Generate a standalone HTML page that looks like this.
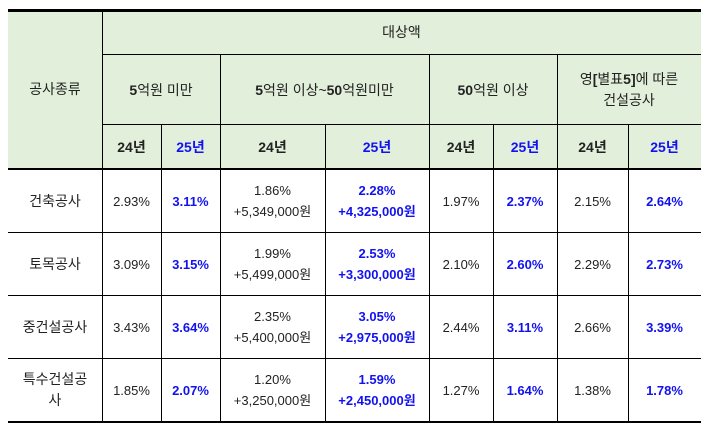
<!DOCTYPE html>
<html><head><meta charset="utf-8"><style>
body{margin:0;width:711px;height:432px;background:#fff;position:relative;overflow:hidden;font-family:"Liberation Sans","Noto Sans CJK KR",sans-serif;color:#222;}
.c{position:absolute;display:flex;align-items:center;justify-content:center;text-align:center;box-sizing:border-box;font-size:13px;line-height:21px;}
.h{background:#e2efda;}
.b{color:#1212f0;font-weight:bold;}
.y{font-weight:bold;font-size:14px;}
.l{position:absolute;background:#000;}
</style></head><body>
<div class="c h" style="left:8px;top:10px;width:693px;height:159px;"></div>
<div class="c h" style="left:8px;top:10px;width:94px;height:159px;font-size:14px;">공사종류</div>
<div class="c h" style="left:102px;top:10px;width:599px;height:45px;font-size:14px;">대상액</div>
<div class="c h" style="left:102px;top:55px;width:118px;height:70px;font-size:14px;"><span><b>5</b>억원 미만</span></div>
<div class="c h" style="left:220px;top:55px;width:209px;height:70px;font-size:14px;"><span><b>5</b>억원 이상~<b>50</b>억원미만</span></div>
<div class="c h" style="left:429px;top:55px;width:128px;height:70px;font-size:14px;"><span><b>50</b>억원 이상</span></div>
<div class="c h" style="left:557px;top:55px;width:144px;height:70px;font-size:14px;"><span>영<b>[</b>별표<b>5]</b>에 따른<br>건설공사</span></div>
<div class="c y" style="left:102px;top:125px;width:59px;height:44px;">24년</div>
<div class="c y b" style="left:161px;top:125px;width:59px;height:44px;">25년</div>
<div class="c y" style="left:220px;top:125px;width:105px;height:44px;">24년</div>
<div class="c y b" style="left:325px;top:125px;width:104px;height:44px;">25년</div>
<div class="c y" style="left:429px;top:125px;width:64px;height:44px;">24년</div>
<div class="c y b" style="left:493px;top:125px;width:64px;height:44px;">25년</div>
<div class="c y" style="left:557px;top:125px;width:71px;height:44px;">24년</div>
<div class="c y b" style="left:628px;top:125px;width:73px;height:44px;">25년</div>

<div id="rows"></div>

<div class="l" style="left:8px;top:9px;width:693px;height:3px;"></div>
<div class="l" style="left:102px;top:54px;width:599px;height:1px;"></div>
<div class="l" style="left:102px;top:124px;width:599px;height:1px;"></div>
<div class="l" style="left:8px;top:168px;width:693px;height:2px;"></div>
<div class="l" style="left:8px;top:232px;width:693px;height:1px;"></div>
<div class="l" style="left:8px;top:295px;width:693px;height:1px;"></div>
<div class="l" style="left:8px;top:358px;width:693px;height:1px;"></div>
<div class="l" style="left:8px;top:421px;width:693px;height:2px;"></div>
<div class="l" style="left:102px;top:10px;width:1px;height:412px;"></div>
<div class="l" style="left:429px;top:55px;width:1px;height:367px;"></div>
<div class="l" style="left:557px;top:55px;width:1px;height:367px;"></div>
<div class="l" style="left:220px;top:55px;width:1px;height:367px;"></div>
<div class="l" style="left:161px;top:125px;width:1px;height:297px;"></div>
<div class="l" style="left:325px;top:125px;width:1px;height:297px;"></div>
<div class="l" style="left:493px;top:125px;width:1px;height:297px;"></div>
<div class="l" style="left:628px;top:125px;width:1px;height:297px;"></div>

<script>
const names=["건축공사","토목공사","중건설공사","특수건설공사"];
const a24=["2.93%","3.09%","3.43%","1.85%"];
const a25=["3.11%","3.15%","3.64%","2.07%"];
const b24=["1.86%","1.99%","2.35%","1.20%"];
const b24w=["+5,349,000원","+5,499,000원","+5,400,000원","+3,250,000원"];
const b25=["2.28%","2.53%","3.05%","1.59%"];
const b25w=["+4,325,000원","+3,300,000원","+2,975,000원","+2,450,000원"];
const c24=["1.97%","2.10%","2.44%","1.27%"];
const c25=["2.37%","2.60%","3.11%","1.64%"];
const d24=["2.15%","2.29%","2.66%","1.38%"];
const d25=["2.64%","2.73%","3.39%","1.78%"];
const tops=[170,233,296,359], hs=[62,62,62,62];
const cols=[[8,94],[102,59],[161,59],[220,105],[325,104],[429,64],[493,64],[557,71],[628,73]];
const root=document.getElementById('rows');
names.forEach((n,i)=>{
  const vals=[[n,0,'work-type-name'],[a24[i],0,'under5-24'],[a25[i],1,'under5-25'],[b24[i]+'<br>'+b24w[i],0,'mid-24'],[b25[i]+'<br>'+b25w[i],1,'mid-25'],[c24[i],0,'over50-24'],[c25[i],1,'over50-25'],[d24[i],0,'table5-24'],[d25[i],1,'table5-25']];
  vals.forEach((v,j)=>{
    const d=document.createElement('div');
    d.className='c'+(v[1]?' b':'');
    
    
    d.style.cssText=`left:${cols[j][0]}px;top:${tops[i]}px;width:${cols[j][1]}px;height:${hs[i]}px;`+(j==0?'font-size:14px;padding:0 8px;':'');
    d.innerHTML=v[0]=='특수건설공사'?'특수건설공<br>사':v[0];
    root.appendChild(d);
  });
});
</script>
</body></html>
